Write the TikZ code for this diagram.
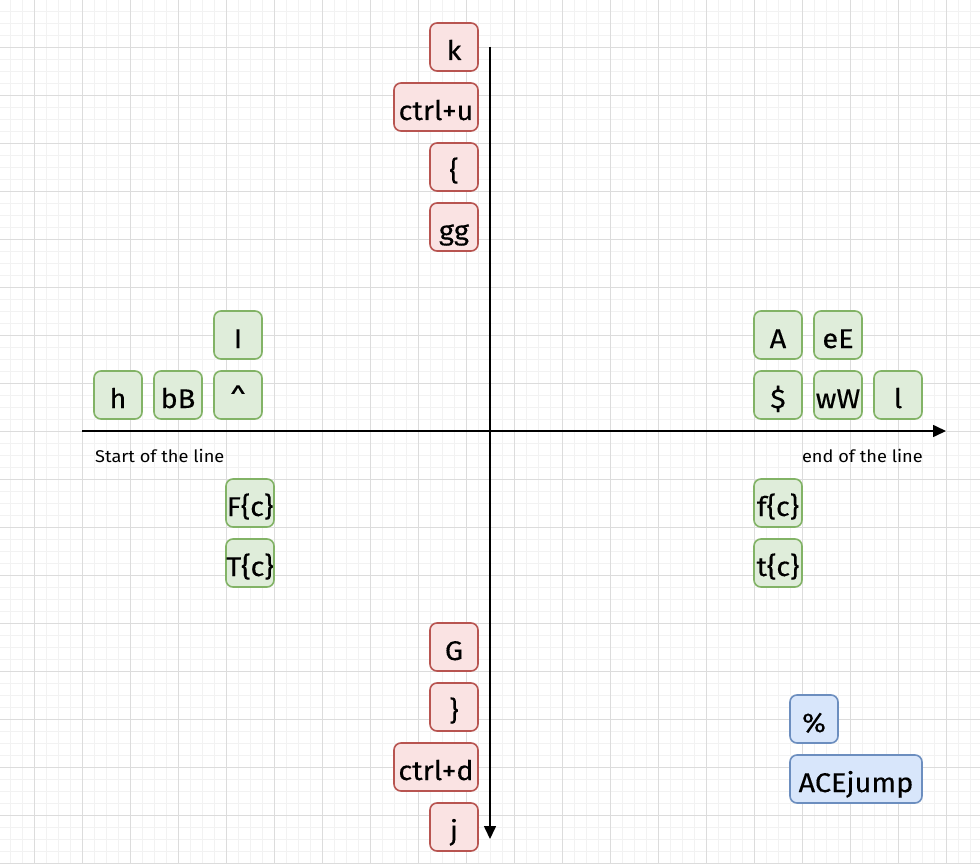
\documentclass[tikz,border=0pt]{standalone}
\usepackage{fontspec}
\setmainfont{Fira Sans}
\newfontfamily\keyfont[FakeStretch=1.07,FakeBold=0.3]{Fira Sans}
\newfontfamily\lblfont[FakeStretch=1.07]{Fira Sans}
\usetikzlibrary{arrows.meta}
\definecolor{redfill}{HTML}{FAE3E3}
\definecolor{redline}{HTML}{B85450}
\definecolor{greenfill}{HTML}{DFEDDA}
\definecolor{greenline}{HTML}{82B366}
\definecolor{bluefill}{HTML}{D8E6FB}
\definecolor{blueline}{HTML}{6C8EBF}
\definecolor{gridmajor}{HTML}{DCDCDC}
\definecolor{gridminor}{HTML}{F2F2F2}
\tikzset{
  key/.style={rectangle, rounded corners=7pt, line width=1.6pt, minimum width=48pt, minimum height=48pt, inner sep=0pt, text height=26pt, text depth=0pt, font=\keyfont\fontsize{27}{30}\selectfont, text=black},
  redkey/.style={key, draw=redline, fill=redfill},
  greenkey/.style={key, draw=greenline, fill=greenfill},
  bluekey/.style={key, draw=blueline, fill=bluefill},
  axisline/.style={line width=1.6pt, draw=black, -{Triangle[length=13pt,width=12pt]}},
  axislabel/.style={font=\lblfont\fontsize{17}{20}\selectfont, text=black, inner sep=0pt},
  minorgrid/.style={draw=gridminor, line width=0.8pt},
  majorgrid/.style={draw=gridmajor, line width=0.8pt}
}
\begin{document}
\begin{tikzpicture}[x=1pt,y=-1pt]
\useasboundingbox (0,0) rectangle (980,864);
\fill[white] (0,0) rectangle (980,864);
% grid
\foreach \gx in {10,22,...,982} \draw[minorgrid] (\gx,0) -- (\gx,864);
\foreach \gy in {11,23,...,863} \draw[minorgrid] (0,\gy) -- (980,\gy);
\foreach \gx in {34,82,...,946} \draw[majorgrid] (\gx,0) -- (\gx,864);
\foreach \gy in {47,95,...,863} \draw[majorgrid] (0,\gy) -- (980,\gy);
% axes
\coordinate (xstart) at (82,431);
\coordinate (xend) at (946,431);
\coordinate (ystart) at (490,47);
\coordinate (yend) at (490,839);
\draw[axisline] (xstart) -- (xend);
\draw[axisline] (ystart) -- (yend);
\node[axislabel, anchor=west] (startlbl) at (95,456) {Start of the line};
\node[axislabel, anchor=east] (endlbl) at (923,456) {end of the line};
% red keys
\node[redkey] (k) at (454,47) {k};
\node[redkey, minimum width=84pt] (ctrlu) at (436,107) {ctrl+u};
\node[redkey] (lbrace) at (454,167) {\{};
\node[redkey] (gg) at (454,227) {gg};
\node[redkey] (G) at (454,647) {G};
\node[redkey] (rbrace) at (454,707) {\}};
\node[redkey, minimum width=84pt] (ctrld) at (436,767) {ctrl+d};
\node[redkey] (j) at (454,827) {j};
% green keys left
\node[greenkey] (I) at (238,335) {I};
\node[greenkey] (h) at (118,395) {h};
\node[greenkey] (bB) at (178,395) {bB};
\node[greenkey] (caret) at (238,395) {\textasciicircum};
\node[greenkey] (Fc) at (250,503) {F\{c\}};
\node[greenkey] (Tc) at (250,563) {T\{c\}};
% green keys right
\node[greenkey] (A) at (778,335) {A};
\node[greenkey] (eE) at (838,335) {eE};
\node[greenkey] (dollar) at (778,395) {\$};
\node[greenkey] (wW) at (838,395) {wW};
\node[greenkey] (l) at (898,395) {l};
\node[greenkey] (fc) at (778,503) {f\{c\}};
\node[greenkey] (tc) at (778,563) {t\{c\}};
% blue keys
\node[bluekey] (pct) at (814,719) {\%};
\node[bluekey, minimum width=132pt] (ace) at (856,779) {ACEjump};
\end{tikzpicture}
\end{document}
